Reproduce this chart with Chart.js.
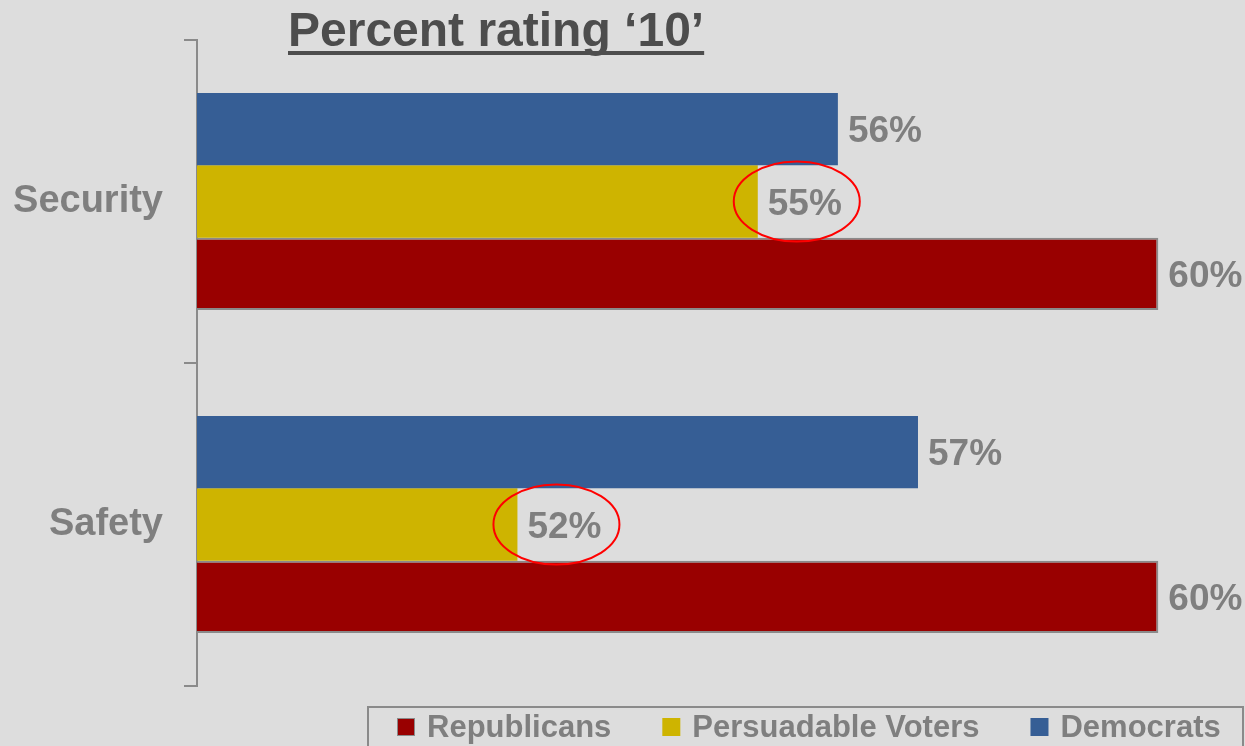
<!DOCTYPE html>
<html>
<head>
<meta charset="utf-8">
<script src="https://cdn.jsdelivr.net/npm/chart.js@4"></script>
<style>
  body { margin: 0; background: #dddddd; }
  #wrap { width: 1245px; height: 746px; position: relative; }
</style>
</head>
<body>
<div id="wrap"><canvas id="ratingChart"></canvas></div>
<script>
// Chart data
const categories = ['Security', 'Safety'];
const democrats = [56, 57];
const persuadable = [55, 52];
const republicans = [60, 60];
const titleText = 'Percent rating \u201810\u2019';

const FONT = "'Liberation Sans', Arial, sans-serif";
const GREY = '#7f7f7f';

// Draws value labels, the red circles, the title and the boxed legend
const extrasPlugin = {
    id: 'extras',
    afterDatasetsDraw(chart) {
        const ctx = chart.ctx;
        ctx.save();
        ctx.font = 'bold 37px ' + FONT;
        ctx.textBaseline = 'middle';
        chart.data.datasets.forEach((ds, i) => {
            chart.getDatasetMeta(i).data.forEach((bar, j) => {
                ctx.fillStyle = GREY;
                ctx.fillText(ds.data[j] + '%', bar.x + 10, bar.y + 3);
                if (ds.circled) {
                    ctx.beginPath();
                    ctx.ellipse(bar.x + 39, bar.y, 63, 40, 0, 0, Math.PI * 2);
                    ctx.strokeStyle = '#ff0000';
                    ctx.lineWidth = 2;
                    ctx.stroke();
                }
            });
        });
        ctx.restore();
    },
    afterDraw(chart) {
        const ctx = chart.ctx;
        ctx.save();

        // Title with underline
        ctx.font = 'bold 48px ' + FONT;
        ctx.fillStyle = '#4d4d4d';
        ctx.textBaseline = 'alphabetic';
        ctx.fillText(titleText, 288, 46);
        const tw = ctx.measureText(titleText).width;
        ctx.fillRect(288, 51, tw, 4);

        // Legend (reverse order of datasets)
        ctx.strokeStyle = '#8a8a8a';
        ctx.lineWidth = 2;
        ctx.strokeRect(368, 707, 875, 45);
        ctx.font = 'bold 31px ' + FONT;
        ctx.textBaseline = 'middle';
        let x = 397;
        chart.data.datasets.slice().reverse().forEach(ds => {
            ctx.fillStyle = ds.backgroundColor;
            ctx.fillRect(x, 718, 18, 18);
            if (ds.borderWidth) {
                ctx.lineWidth = 1;
                ctx.strokeStyle = ds.borderColor;
                ctx.strokeRect(x + 0.5, 718.5, 17, 17);
            }
            ctx.fillStyle = GREY;
            ctx.fillText(ds.label, x + 30, 728);
            x += 30 + ctx.measureText(ds.label).width + 51;
        });
        ctx.restore();
    }
};

const ctx = document.getElementById('ratingChart').getContext('2d');
window.myChart = new Chart(ctx, {
    type: 'bar',
    data: {
        labels: categories,
        datasets: [
            { label: 'Democrats', data: democrats, backgroundColor: '#365e95', borderWidth: 0 },
            { label: 'Persuadable Voters', data: persuadable, backgroundColor: '#ceb400', borderWidth: 0, circled: true },
            { label: 'Republicans', data: republicans, backgroundColor: '#990000', borderColor: '#8a8a8a', borderWidth: 2, borderSkipped: false }
        ]
    },
    options: {
        indexAxis: 'y',
        responsive: true,
        maintainAspectRatio: false,
        animation: false,
        datasets: {
            bar: { categoryPercentage: 0.672, barPercentage: 1 }
        },
        layout: { padding: { top: 40, bottom: 60, left: 13, right: 29 } },
        plugins: {
            legend: { display: false },
            title: { display: false },
            tooltip: { enabled: false }
        },
        scales: {
            x: {
                display: false,
                min: 48,
                max: 60.72
            },
            y: {
                afterFit: s => {
                    s.width = 184;
                    s.paddingTop = 0;
                    s.paddingBottom = 0;
                },
                border: { display: true, color: '#8a8a8a', width: 2 },
                grid: { drawOnChartArea: false, tickLength: 13, color: '#8a8a8a', lineWidth: 2, offset: true },
                ticks: {
                    padding: 21,
                    color: GREY,
                    font: { family: FONT, size: 38, weight: 'bold' }
                }
            }
        }
    },
    plugins: [extrasPlugin]
});
</script>
</body>
</html>
